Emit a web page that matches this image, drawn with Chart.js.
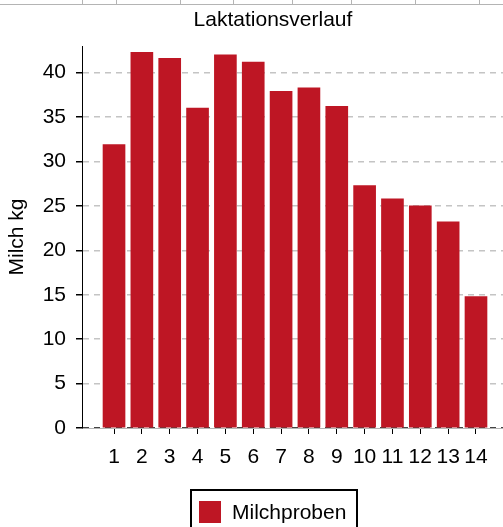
<!DOCTYPE html>
<html>
<head>
<meta charset="utf-8">
<script src="https://cdn.jsdelivr.net/npm/chart.js@4"></script>
<style>
  html, body { margin: 0; padding: 0; background: #fff; }
  #wrap { position: relative; width: 503px; height: 527px; overflow: hidden; }
</style>
</head>
<body>
<div id="wrap"><canvas id="milkChart" width="503" height="527"></canvas></div>
<script>
// Daten
const probeNr = [1, 2, 3, 4, 5, 6, 7, 8, 9, 10, 11, 12, 13, 14];
const milchKg = [31.9, 42.3, 41.6, 36.0, 42.0, 41.2, 37.9, 38.3, 36.2, 27.3, 25.8, 25.0, 23.2, 14.8];
const yTicks = [0, 5, 10, 15, 20, 25, 30, 35, 40];
const chartTitle = 'Laktationsverlauf';
const seriesName = 'Milchproben';
const yTitle = 'Milch kg';

const barColor = '#be1624';
const fontFamily = '"Liberation Sans", Arial, sans-serif';
const fontSize = 21;

// Titel, Legende und Rahmenreste oben selbst zeichnen
const decorPlugin = {
    id: 'decor',
    afterDraw(chart) {
        const ctx = chart.ctx;
        ctx.save();
        // Linien am oberen Rand
        ctx.strokeStyle = '#b4b4b4';
        ctx.lineWidth = 1;
        ctx.beginPath();
        ctx.moveTo(0, 4.5);
        ctx.lineTo(503, 4.5);
        [82, 116, 180, 233, 292, 351, 415, 479].forEach(function(x) {
            ctx.moveTo(x + 0.5, 0);
            ctx.lineTo(x + 0.5, 4);
        });
        ctx.stroke();

        // Titel
        ctx.fillStyle = '#000';
        ctx.font = fontSize + 'px ' + fontFamily;
        ctx.textAlign = 'center';
        ctx.textBaseline = 'middle';
        ctx.fillText(chartTitle, 273, 20);

        // Legende mit Rahmen
        ctx.strokeStyle = '#000';
        ctx.lineWidth = 2;
        ctx.strokeRect(191, 490, 166, 60);
        ctx.fillStyle = chart.data.datasets[0].backgroundColor;
        ctx.fillRect(199, 501, 22, 22);
        ctx.fillStyle = '#000';
        ctx.textAlign = 'left';
        ctx.fillText(chart.data.datasets[0].label, 232, 513);
        ctx.restore();
    }
};

const ctx = document.getElementById('milkChart').getContext('2d');
const milkChart = new Chart(ctx, {
    type: 'bar',
    data: {
        datasets: [{
            label: seriesName,
            data: probeNr.map(function(nr, i) { return { x: nr, y: milchKg[i] }; }),
            backgroundColor: barColor,
            borderWidth: 0,
            barThickness: 22
        }]
    },
    options: {
        responsive: false,
        animation: false,
        layout: {
            padding: { top: 46, left: 0, right: 0, bottom: 54 }
        },
        plugins: {
            legend: { display: false },
            title: { display: false },
            tooltip: { enabled: false }
        },
        scales: {
            x: {
                type: 'linear',
                offset: false,
                min: -0.15,
                max: 14.97,
                afterBuildTicks: function(scale) {
                    scale.ticks = probeNr.map(function(v) { return { value: v }; });
                },
                afterFit: function(scale) {
                    scale.height = 45;
                },
                grid: {
                    offset: false,
                    drawOnChartArea: false,
                    drawTicks: true,
                    tickLength: 6,
                    tickColor: '#000'
                },
                border: { color: '#b4b4b4', width: 1 },
                ticks: {
                    color: '#000',
                    padding: 11,
                    autoSkip: false,
                    maxRotation: 0,
                    font: { family: fontFamily, size: fontSize }
                }
            },
            y: {
                min: 0,
                max: 43,
                afterBuildTicks: function(scale) {
                    scale.ticks = yTicks.map(function(v) { return { value: v }; });
                },
                afterFit: function(scale) {
                    scale.width = 82;
                },
                grid: {
                    color: function(c) { return c.tick && c.tick.value === 0 ? '#444' : '#c4c4c4'; },
                    lineWidth: 1.5,
                    tickLength: 6,
                    tickColor: '#000',
                    tickBorderDash: []
                },
                border: { color: '#000', width: 1, dash: [6, 5] },
                ticks: {
                    color: '#000',
                    padding: 10,
                    font: { family: fontFamily, size: fontSize }
                },
                title: {
                    display: true,
                    text: yTitle,
                    color: '#000',
                    padding: { top: 5, bottom: 0 },
                    font: { family: fontFamily, size: fontSize }
                }
            }
        }
    },
    plugins: [decorPlugin]
});
</script>
</body>
</html>
